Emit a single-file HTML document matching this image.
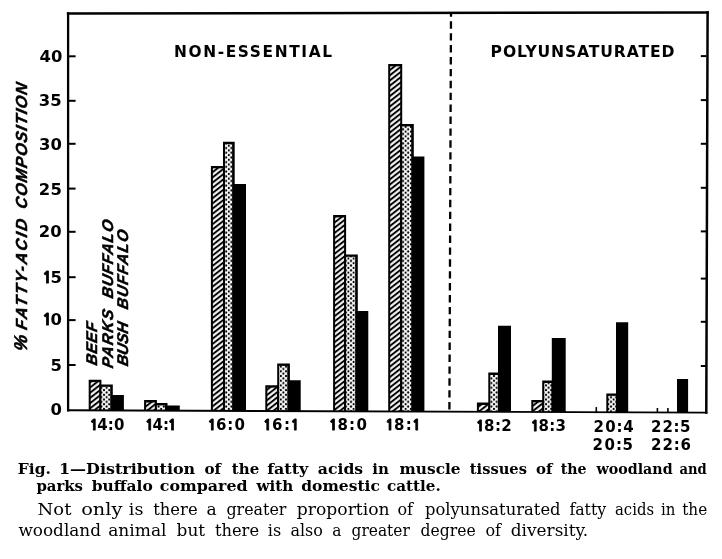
<!DOCTYPE html>
<html><head><meta charset="utf-8"><title>Fig. 1 fatty acids</title>
<style>
html,body{margin:0;padding:0;background:#fff;}
body{width:722px;height:559px;overflow:hidden;position:relative;filter:grayscale(1);}
svg{position:absolute;left:0;top:0;}
</style></head><body>
<svg width="722" height="559" viewBox="0 0 722 559">
<defs>
<pattern id="hat" patternUnits="userSpaceOnUse" width="4.1" height="4.1" patternTransform="rotate(-38)">
<rect x="0" y="0" width="4.1" height="4.1" fill="#000"/>
<rect x="0" y="1.05" width="4.1" height="2.1" fill="#fff"/>
</pattern>
<pattern id="dot" patternUnits="userSpaceOnUse" width="5.2" height="4.7">
<rect x="0" y="0" width="5.2" height="4.7" fill="#fff"/>
<circle cx="0" cy="0" r="1.1" fill="#000"/><circle cx="5.2" cy="0" r="1.1" fill="#000"/>
<circle cx="0" cy="4.7" r="1.1" fill="#000"/><circle cx="5.2" cy="4.7" r="1.1" fill="#000"/>
<circle cx="2.6" cy="2.35" r="1.1" fill="#000"/>
</pattern>
</defs>

<polygon points="88.7,379.7 101.4,379.7 101.4,410.41 88.7,410.36" fill="#000"/>
<rect x="90.7" y="382.1" width="8.7" height="28.26" fill="url(#hat)"/>
<polygon points="99.4,384.4 112.8,384.4 112.8,410.45 99.4,410.4" fill="#000"/>
<rect x="101.4" y="386.8" width="8.8" height="23.6" fill="url(#dot)"/>
<polygon points="111.6,394.9 123.9,394.9 123.9,410.49 111.6,410.44" fill="#000"/>
<polygon points="144.1,400.1 156.9,400.1 156.9,410.61 144.1,410.56" fill="#000"/>
<rect x="146.1" y="402.5" width="8.8" height="8.06" fill="url(#hat)"/>
<polygon points="154.9,403 167.5,403 167.5,410.64 154.9,410.6" fill="#000"/>
<rect x="156.9" y="405.4" width="8" height="5.2" fill="url(#dot)"/>
<polygon points="166.3,405.4 179.8,405.4 179.8,410.69 166.3,410.64" fill="#000"/>
<polygon points="210.9,165.9 225,165.9 225,410.85 210.9,410.8" fill="#000"/>
<rect x="212.9" y="168.3" width="10.1" height="242.5" fill="url(#hat)"/>
<polygon points="223,141.8 234.7,141.8 234.7,410.89 223,410.85" fill="#000"/>
<rect x="225" y="144.2" width="7.1" height="266.65" fill="url(#dot)"/>
<polygon points="233.5,183.9 246,183.9 246,410.93 233.5,410.88" fill="#000"/>
<polygon points="265.3,385.2 279.1,385.2 279.1,411.05 265.3,411" fill="#000"/>
<rect x="267.3" y="387.6" width="9.8" height="23.4" fill="url(#hat)"/>
<polygon points="277.2,363.5 289.9,363.5 289.9,411.09 277.2,411.04" fill="#000"/>
<rect x="279.2" y="365.9" width="8.1" height="45.14" fill="url(#dot)"/>
<polygon points="288.7,380.2 300.7,380.2 300.7,411.13 288.7,411.08" fill="#000"/>
<polygon points="333.1,215 346.1,215 346.1,411.29 333.1,411.24" fill="#000"/>
<rect x="335.1" y="217.4" width="9" height="193.84" fill="url(#hat)"/>
<polygon points="344.1,254.4 357.8,254.4 357.8,411.33 344.1,411.28" fill="#000"/>
<rect x="346.1" y="256.8" width="9.1" height="154.48" fill="url(#dot)"/>
<polygon points="356.6,310.9 368.3,310.9 368.3,411.37 356.6,411.33" fill="#000"/>
<polygon points="388.2,63.9 402.2,63.9 402.2,411.49 388.2,411.44" fill="#000"/>
<rect x="390.2" y="66.3" width="10" height="345.14" fill="url(#hat)"/>
<polygon points="400.2,124 413.8,124 413.8,411.54 400.2,411.49" fill="#000"/>
<rect x="402.2" y="126.4" width="9" height="285.09" fill="url(#dot)"/>
<polygon points="412.6,156.6 424.4,156.6 424.4,411.57 412.6,411.53" fill="#000"/>
<polygon points="476.9,402.6 490.3,402.6 490.3,411.81 476.9,411.76" fill="#000"/>
<rect x="478.9" y="405" width="9.4" height="6.76" fill="url(#hat)"/>
<polygon points="488.3,372.6 500.4,372.6 500.4,411.85 488.3,411.81" fill="#000"/>
<rect x="490.3" y="375" width="7.5" height="36.81" fill="url(#dot)"/>
<polygon points="498,325.7 511,325.7 511,411.89 498,411.84" fill="#000"/>
<polygon points="531.3,399.9 544.2,399.9 544.2,412.01 531.3,411.96" fill="#000"/>
<rect x="533.3" y="402.3" width="8.9" height="9.66" fill="url(#hat)"/>
<polygon points="542.2,380.6 554,380.6 554,412.04 542.2,412" fill="#000"/>
<rect x="544.2" y="383" width="7.2" height="29" fill="url(#dot)"/>
<polygon points="551.8,337.9 565.7,337.9 565.7,412.09 551.8,412.04" fill="#000"/>
<polygon points="606.3,393.4 618.5,393.4 618.5,412.28 606.3,412.23" fill="#000"/>
<rect x="608.3" y="395.8" width="7.6" height="16.43" fill="url(#dot)"/>
<polygon points="616,322.2 628.2,322.2 628.2,412.31 616,412.27" fill="#000"/>
<polygon points="677,379.1 688.1,379.1 688.1,412.53 677,412.49" fill="#000"/>
<line x1="596.3" y1="407.1" x2="596.3" y2="412.2" stroke="#000" stroke-width="1.6"/>
<line x1="657.4" y1="408" x2="657.4" y2="412.42" stroke="#000" stroke-width="1.6"/>
<line x1="667.9" y1="408" x2="667.9" y2="412.46" stroke="#000" stroke-width="1.6"/>
<g stroke="#000" fill="none" stroke-linecap="square">
<line x1="68.1" y1="13.4" x2="707.6" y2="12.55" stroke-width="2.5"/>
<line x1="68.1" y1="13.4" x2="68.1" y2="410.28" stroke-width="2.3"/>
<line x1="707.6" y1="12.55" x2="706.3" y2="412.6" stroke-width="2.5"/>
<line x1="68.1" y1="410.28" x2="706.3" y2="412.6" stroke-width="1.9"/>
</g>
<g stroke="#000" stroke-width="2">
<line x1="68" y1="56.3" x2="75.6" y2="56.3"/>
<line x1="700.8" y1="56.1" x2="706.5" y2="56.1"/>
<line x1="68" y1="100.8" x2="75.6" y2="100.8"/>
<line x1="700.8" y1="100.1" x2="706.5" y2="100.1"/>
<line x1="68" y1="143.8" x2="75.6" y2="143.8"/>
<line x1="700.8" y1="143.8" x2="706.5" y2="143.8"/>
<line x1="68" y1="188.6" x2="75.6" y2="188.6"/>
<line x1="700.8" y1="187.8" x2="706.5" y2="187.8"/>
<line x1="68" y1="231.8" x2="75.6" y2="231.8"/>
<line x1="700.8" y1="231.4" x2="706.5" y2="231.4"/>
<line x1="68" y1="277.2" x2="75.6" y2="277.2"/>
<line x1="700.8" y1="278.6" x2="706.5" y2="278.6"/>
<line x1="68" y1="320.1" x2="75.6" y2="320.1"/>
<line x1="700.8" y1="321.8" x2="706.5" y2="321.8"/>
<line x1="68" y1="365" x2="75.6" y2="365"/>
<line x1="700.8" y1="366" x2="706.5" y2="366"/>
</g>
<line x1="451" y1="13.5" x2="449.4" y2="411.67" stroke="#000" stroke-width="2.3" stroke-dasharray="7.4 4.5" stroke-dashoffset="4.1"/>
<text y="62.4" font-family="DejaVu Sans, sans-serif" font-weight="bold" font-size="16.4"><tspan x="39.48">4</tspan><tspan x="50.94">0</tspan></text>
<text y="105.9" font-family="DejaVu Sans, sans-serif" font-weight="bold" font-size="16.4"><tspan x="38.71">3</tspan><tspan x="50.21">5</tspan></text>
<text y="149.9" font-family="DejaVu Sans, sans-serif" font-weight="bold" font-size="16.4"><tspan x="39.01">3</tspan><tspan x="50.54">0</tspan></text>
<text y="195" font-family="DejaVu Sans, sans-serif" font-weight="bold" font-size="16.4"><tspan x="38.73">2</tspan><tspan x="50.51">5</tspan></text>
<text y="236.7" font-family="DejaVu Sans, sans-serif" font-weight="bold" font-size="16.4"><tspan x="38.73">2</tspan><tspan x="50.24">0</tspan></text>
<text y="283.2" font-family="DejaVu Sans, sans-serif" font-weight="bold" font-size="16.4"><tspan x="42.62" font-family="NanumGothic, DejaVu Sans, sans-serif" font-weight="800" font-size="15.25" stroke="#000" stroke-width="0.8">1</tspan><tspan x="50.41">5</tspan></text>
<text y="325" font-family="DejaVu Sans, sans-serif" font-weight="bold" font-size="16.4"><tspan x="42.62" font-family="NanumGothic, DejaVu Sans, sans-serif" font-weight="800" font-size="15.25" stroke="#000" stroke-width="0.8">1</tspan><tspan x="50.44">0</tspan></text>
<text y="370.7" font-family="DejaVu Sans, sans-serif" font-weight="bold" font-size="16.4"><tspan x="50.61">5</tspan></text>
<text y="415.3" font-family="DejaVu Sans, sans-serif" font-weight="bold" font-size="16.4"><tspan x="50.54">0</tspan></text>
<text y="430" font-family="DejaVu Sans, sans-serif" font-weight="bold" font-size="15"><tspan x="89.67" font-family="NanumGothic, DejaVu Sans, sans-serif" font-weight="800" font-size="13.95" stroke="#000" stroke-width="0.8">1</tspan><tspan x="97.19">4</tspan><tspan x="107.87">:</tspan><tspan x="114.05">0</tspan></text>
<text y="430" font-family="DejaVu Sans, sans-serif" font-weight="bold" font-size="15"><tspan x="145.27" font-family="NanumGothic, DejaVu Sans, sans-serif" font-weight="800" font-size="13.95" stroke="#000" stroke-width="0.8">1</tspan><tspan x="152.53">4</tspan><tspan x="162.97">:</tspan><tspan x="168.02" font-family="NanumGothic, DejaVu Sans, sans-serif" font-weight="800" font-size="13.95" stroke="#000" stroke-width="0.8">1</tspan></text>
<text y="430" font-family="DejaVu Sans, sans-serif" font-weight="bold" font-size="15"><tspan x="207.67" font-family="NanumGothic, DejaVu Sans, sans-serif" font-weight="800" font-size="13.95" stroke="#000" stroke-width="0.8">1</tspan><tspan x="215.9">6</tspan><tspan x="227.3">:</tspan><tspan x="234.45">0</tspan></text>
<text y="430" font-family="DejaVu Sans, sans-serif" font-weight="bold" font-size="15"><tspan x="263.17" font-family="NanumGothic, DejaVu Sans, sans-serif" font-weight="800" font-size="13.95" stroke="#000" stroke-width="0.8">1</tspan><tspan x="271.98">6</tspan><tspan x="283.97">:</tspan><tspan x="290.82" font-family="NanumGothic, DejaVu Sans, sans-serif" font-weight="800" font-size="13.95" stroke="#000" stroke-width="0.8">1</tspan></text>
<text y="430" font-family="DejaVu Sans, sans-serif" font-weight="bold" font-size="15"><tspan x="329.07" font-family="NanumGothic, DejaVu Sans, sans-serif" font-weight="800" font-size="13.95" stroke="#000" stroke-width="0.8">1</tspan><tspan x="337.5">8</tspan><tspan x="349.1">:</tspan><tspan x="356.45">0</tspan></text>
<text y="430" font-family="DejaVu Sans, sans-serif" font-weight="bold" font-size="15"><tspan x="385.57" font-family="NanumGothic, DejaVu Sans, sans-serif" font-weight="800" font-size="13.95" stroke="#000" stroke-width="0.8">1</tspan><tspan x="394.05">8</tspan><tspan x="405.7">:</tspan><tspan x="412.22" font-family="NanumGothic, DejaVu Sans, sans-serif" font-weight="800" font-size="13.95" stroke="#000" stroke-width="0.8">1</tspan></text>
<text y="430.5" font-family="DejaVu Sans, sans-serif" font-weight="bold" font-size="15"><tspan x="475.97" font-family="NanumGothic, DejaVu Sans, sans-serif" font-weight="800" font-size="13.95" stroke="#000" stroke-width="0.8">1</tspan><tspan x="483.9">8</tspan><tspan x="495">:</tspan><tspan x="501.35">2</tspan></text>
<text y="430.5" font-family="DejaVu Sans, sans-serif" font-weight="bold" font-size="15"><tspan x="530.87" font-family="NanumGothic, DejaVu Sans, sans-serif" font-weight="800" font-size="13.95" stroke="#000" stroke-width="0.8">1</tspan><tspan x="538.45">8</tspan><tspan x="549.2">:</tspan><tspan x="555.45">3</tspan></text>
<text y="431.5" font-family="DejaVu Sans, sans-serif" font-weight="bold" font-size="15"><tspan x="593.45">2</tspan><tspan x="605.18">0</tspan><tspan x="616.42">:</tspan><tspan x="623.15">4</tspan></text>
<text y="431.5" font-family="DejaVu Sans, sans-serif" font-weight="bold" font-size="15"><tspan x="650.95">2</tspan><tspan x="662.43">2</tspan><tspan x="673.42">:</tspan><tspan x="679.9">5</tspan></text>
<text y="450.2" font-family="DejaVu Sans, sans-serif" font-weight="bold" font-size="15"><tspan x="592.45">2</tspan><tspan x="604.43">0</tspan><tspan x="615.92">:</tspan><tspan x="622.4">5</tspan></text>
<text y="450.2" font-family="DejaVu Sans, sans-serif" font-weight="bold" font-size="15"><tspan x="650.95">2</tspan><tspan x="662.55">2</tspan><tspan x="673.65">:</tspan><tspan x="680.5">6</tspan></text>
<text x="173.9" y="56.5" font-family="DejaVu Sans, sans-serif" font-weight="bold" font-size="15.4" textLength="158.2" lengthAdjust="spacing">NON-ESSENTIAL</text>
<text x="490.6" y="57.4" font-family="DejaVu Sans, sans-serif" font-weight="bold" font-size="15.6" textLength="183.8" lengthAdjust="spacing">POLYUNSATURATED</text>
<text transform="translate(27,352.2) rotate(-90) skewX(-12)" font-family="Liberation Sans, sans-serif" font-weight="bold" font-style="italic" font-size="18.5" stroke="#000" stroke-width="0.5">%</text>
<text transform="translate(27.2,330.5) rotate(-90) skewX(-12)" font-family="Liberation Sans, sans-serif" font-weight="bold" font-style="italic" font-size="16" textLength="110.5" lengthAdjust="spacing" stroke="#000" stroke-width="0.5">FATTY-ACID</text>
<text transform="translate(27,209.5) rotate(-90) skewX(-12)" font-family="Liberation Sans, sans-serif" font-weight="bold" font-style="italic" font-size="16" textLength="125.5" lengthAdjust="spacing" stroke="#000" stroke-width="0.5">COMPOSITION</text>
<text transform="translate(97,366) rotate(-90) skewX(-12)" font-family="Liberation Sans, sans-serif" font-weight="bold" font-style="italic" font-size="15.5" textLength="42.9" lengthAdjust="spacing" stroke="#000" stroke-width="0.5">BEEF</text>
<text transform="translate(112.7,368.7) rotate(-90) skewX(-12)" font-family="Liberation Sans, sans-serif" font-weight="bold" font-style="italic" font-size="15.5" textLength="58.2" lengthAdjust="spacing" stroke="#000" stroke-width="0.5">PARKS</text>
<text transform="translate(112.7,299) rotate(-90) skewX(-12)" font-family="Liberation Sans, sans-serif" font-weight="bold" font-style="italic" font-size="15.5" textLength="78.2" lengthAdjust="spacing" stroke="#000" stroke-width="0.5">BUFFALO</text>
<text transform="translate(127.7,366.8) rotate(-90) skewX(-12)" font-family="Liberation Sans, sans-serif" font-weight="bold" font-style="italic" font-size="15.5" textLength="43.8" lengthAdjust="spacing" stroke="#000" stroke-width="0.5">BUSH</text>
<text transform="translate(127.7,310) rotate(-90) skewX(-12)" font-family="Liberation Sans, sans-serif" font-weight="bold" font-style="italic" font-size="15.5" textLength="79.2" lengthAdjust="spacing" stroke="#000" stroke-width="0.5">BUFFALO</text>
</svg>
<svg width="722" height="559" viewBox="0 0 722 559">
<text x="17.8" y="473.8" font-family="DejaVu Serif, serif" font-weight="bold" font-size="14.6" textLength="33.2" lengthAdjust="spacingAndGlyphs">Fig.</text>
<text x="59" y="473.8" font-family="DejaVu Serif, serif" font-weight="bold" font-size="14.6" textLength="136.2" lengthAdjust="spacingAndGlyphs">1—Distribution</text>
<text x="204.4" y="473.8" font-family="DejaVu Serif, serif" font-weight="bold" font-size="14.6" textLength="16.6" lengthAdjust="spacingAndGlyphs">of</text>
<text x="231.8" y="473.8" font-family="DejaVu Serif, serif" font-weight="bold" font-size="14.6" textLength="27.4" lengthAdjust="spacingAndGlyphs">the</text>
<text x="267.2" y="473.8" font-family="DejaVu Serif, serif" font-weight="bold" font-size="14.6" textLength="41" lengthAdjust="spacingAndGlyphs">fatty</text>
<text x="317.8" y="473.8" font-family="DejaVu Serif, serif" font-weight="bold" font-size="14.6" textLength="45.4" lengthAdjust="spacingAndGlyphs">acids</text>
<text x="372.2" y="473.8" font-family="DejaVu Serif, serif" font-weight="bold" font-size="14.6" textLength="16.6" lengthAdjust="spacingAndGlyphs">in</text>
<text x="399.6" y="473.8" font-family="DejaVu Serif, serif" font-weight="bold" font-size="14.6" textLength="61" lengthAdjust="spacingAndGlyphs">muscle</text>
<text x="469.8" y="473.8" font-family="DejaVu Serif, serif" font-weight="bold" font-size="14.6" textLength="57.2" lengthAdjust="spacingAndGlyphs">tissues</text>
<text x="536" y="473.8" font-family="DejaVu Serif, serif" font-weight="bold" font-size="14.6" textLength="16.4" lengthAdjust="spacingAndGlyphs">of</text>
<text x="560.8" y="473.8" font-family="DejaVu Serif, serif" font-weight="bold" font-size="14.6" textLength="25.8" lengthAdjust="spacingAndGlyphs">the</text>
<text x="596.6" y="473.8" font-family="DejaVu Serif, serif" font-weight="bold" font-size="14.6" textLength="76" lengthAdjust="spacingAndGlyphs">woodland</text>
<text x="679.4" y="473.8" font-family="DejaVu Serif, serif" font-weight="bold" font-size="14.6" textLength="27.2" lengthAdjust="spacingAndGlyphs">and</text>
<text x="36.4" y="491" font-family="DejaVu Serif, serif" font-weight="bold" font-size="14.6" textLength="46.6" lengthAdjust="spacingAndGlyphs">parks</text>
<text x="91.8" y="491" font-family="DejaVu Serif, serif" font-weight="bold" font-size="14.6" textLength="61" lengthAdjust="spacingAndGlyphs">buffalo</text>
<text x="159.8" y="491" font-family="DejaVu Serif, serif" font-weight="bold" font-size="14.6" textLength="87.8" lengthAdjust="spacingAndGlyphs">compared</text>
<text x="256.4" y="491" font-family="DejaVu Serif, serif" font-weight="bold" font-size="14.6" textLength="36.8" lengthAdjust="spacingAndGlyphs">with</text>
<text x="301.2" y="491" font-family="DejaVu Serif, serif" font-weight="bold" font-size="14.6" textLength="78.8" lengthAdjust="spacingAndGlyphs">domestic</text>
<text x="387" y="491" font-family="DejaVu Serif, serif" font-weight="bold" font-size="14.6" textLength="53.8" lengthAdjust="spacingAndGlyphs">cattle.</text>
<text x="37.6" y="515" font-family="DejaVu Serif, serif" font-size="16" textLength="33.8" lengthAdjust="spacingAndGlyphs">Not</text>
<text x="81.2" y="515" font-family="DejaVu Serif, serif" font-size="16" textLength="41.2" lengthAdjust="spacingAndGlyphs">only</text>
<text x="128.8" y="515" font-family="DejaVu Serif, serif" font-size="16" textLength="14.6" lengthAdjust="spacingAndGlyphs">is</text>
<text x="153.2" y="515" font-family="DejaVu Serif, serif" font-size="16" textLength="44.4" lengthAdjust="spacingAndGlyphs">there</text>
<text x="206.6" y="515" font-family="DejaVu Serif, serif" font-size="16" textLength="10.2" lengthAdjust="spacingAndGlyphs">a</text>
<text x="226.4" y="515" font-family="DejaVu Serif, serif" font-size="16" textLength="60" lengthAdjust="spacingAndGlyphs">greater</text>
<text x="296.8" y="515" font-family="DejaVu Serif, serif" font-size="16" textLength="92.8" lengthAdjust="spacingAndGlyphs">proportion</text>
<text x="397.4" y="515" font-family="DejaVu Serif, serif" font-size="16" textLength="15.6" lengthAdjust="spacingAndGlyphs">of</text>
<text x="425" y="515" font-family="DejaVu Serif, serif" font-size="16" textLength="135.6" lengthAdjust="spacingAndGlyphs">polyunsaturated</text>
<text x="569.4" y="515" font-family="DejaVu Serif, serif" font-size="16" textLength="36.8" lengthAdjust="spacingAndGlyphs">fatty</text>
<text x="615" y="515" font-family="DejaVu Serif, serif" font-size="16" textLength="39" lengthAdjust="spacingAndGlyphs">acids</text>
<text x="661" y="515" font-family="DejaVu Serif, serif" font-size="16" textLength="14.4" lengthAdjust="spacingAndGlyphs">in</text>
<text x="682.2" y="515" font-family="DejaVu Serif, serif" font-size="16" textLength="25" lengthAdjust="spacingAndGlyphs">the</text>
<text x="18.4" y="535.5" font-family="DejaVu Serif, serif" font-size="16" textLength="82.6" lengthAdjust="spacingAndGlyphs">woodland</text>
<text x="108.2" y="535.5" font-family="DejaVu Serif, serif" font-size="16" textLength="58.4" lengthAdjust="spacingAndGlyphs">animal</text>
<text x="176.6" y="535.5" font-family="DejaVu Serif, serif" font-size="16" textLength="28.6" lengthAdjust="spacingAndGlyphs">but</text>
<text x="215" y="535.5" font-family="DejaVu Serif, serif" font-size="16" textLength="44" lengthAdjust="spacingAndGlyphs">there</text>
<text x="267.8" y="535.5" font-family="DejaVu Serif, serif" font-size="16" textLength="13.4" lengthAdjust="spacingAndGlyphs">is</text>
<text x="290.4" y="535.5" font-family="DejaVu Serif, serif" font-size="16" textLength="32.4" lengthAdjust="spacingAndGlyphs">also</text>
<text x="332.2" y="535.5" font-family="DejaVu Serif, serif" font-size="16" textLength="9.2" lengthAdjust="spacingAndGlyphs">a</text>
<text x="351.6" y="535.5" font-family="DejaVu Serif, serif" font-size="16" textLength="58.2" lengthAdjust="spacingAndGlyphs">greater</text>
<text x="420.6" y="535.5" font-family="DejaVu Serif, serif" font-size="16" textLength="55" lengthAdjust="spacingAndGlyphs">degree</text>
<text x="485.4" y="535.5" font-family="DejaVu Serif, serif" font-size="16" textLength="15.6" lengthAdjust="spacingAndGlyphs">of</text>
<text x="510.8" y="535.5" font-family="DejaVu Serif, serif" font-size="16" textLength="77.4" lengthAdjust="spacingAndGlyphs">diversity.</text>
</svg>
</body></html>
